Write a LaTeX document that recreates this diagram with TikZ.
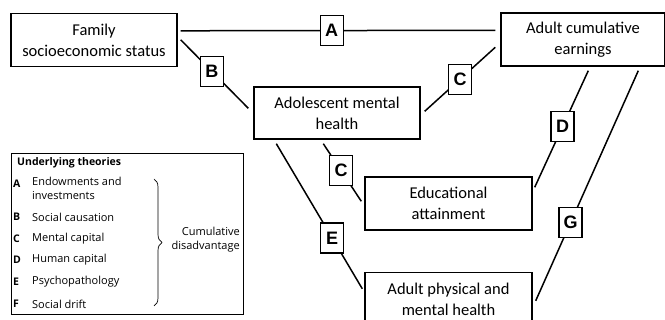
\documentclass[tikz,border=0pt]{standalone}
\usepackage{fontspec}
\setmainfont{Carlito}
\newfontfamily\labfont{Liberation Sans}
\newfontfamily\legfont{Open Sans}
\usetikzlibrary{calc}
\usetikzlibrary{decorations.pathreplacing}
\tikzstyle{bigbox}=[draw, line width=1.4, align=center, inner sep=0, minimum height=53, font=\fontsize{16.5}{21}\selectfont]
\tikzstyle{lbl}=[draw, fill=white, line width=1.4, inner sep=0, minimum width=23, minimum height=30, font=\labfont\bfseries\fontsize{18}{18}\selectfont]
\tikzstyle{link}=[line width=1.5]
\tikzstyle{legkey}=[anchor=west, inner sep=0, font=\legfont\bfseries\fontsize{10.5}{13}\selectfont]
\tikzstyle{legitem}=[anchor=west, inner sep=0, align=left, font=\legfont\fontsize{11}{14}\selectfont]

\begin{document}
\begin{tikzpicture}[x=1pt,y=-1pt]
        \useasboundingbox (0,0) rectangle (665,320);

        \node[bigbox, minimum width=166] (fam) at (94,40) {Family\\socioeconomic status};
        \node[bigbox, minimum width=164] (earn) at (583,39.5) {Adult cumulative\\earnings};
        \node[bigbox, minimum width=166, minimum height=52] (adol) at (337,113) {Adolescent mental\\health};
        \node[bigbox, minimum width=167] (edu) at (448.5,203.5) {Educational\\attainment};
        \node[bigbox, minimum width=167] (adph) at (448.5,299) {Adult physical and\\mental health};

        \draw[link] ($(fam.north east)+(3,18)$) -- node[lbl, pos=0.48]{A} ($(earn.north west)+(-5,18)$);
        \draw[link] ($(fam.north east)+(3,27)$) -- node[lbl, pos=0.46]{B} ($(adol.north west)+(-5,22)$);
        \draw[link] ($(earn.north west)+(-5,35)$) -- node[lbl, pos=0.5]{C} ($(adol.north east)+(4,25)$);
        \draw[link] ($(adol.south west)+(70,4)$) -- node[lbl, pos=0.47]{C} ($(edu.north west)+(-3,25)$);
        \draw[link] ($(adol.south west)+(23,4)$) -- node[lbl, pos=0.65]{E} ($(adph.north west)+(-2,17)$);
        \draw[link] ($(earn.south west)+(88,4)$) -- node[lbl, pos=0.48]{D} ($(edu.north east)+(2,11)$);
        \draw[link] ($(earn.south west)+(138,4)$) -- node[lbl, pos=0.66]{G} ($(adph.north east)+(3,29)$);

        % legend
        \node[draw, line width=0.8, minimum width=232, minimum height=161, inner sep=0] (leg) at (127,233.5) {};
        \node[legkey] (ttl) at (17,163) {Underlying theories};
        \node[legkey] (kA) at (13,184) {A};
        \node[legitem, anchor=north west] (tA) at (32,177) {Endowments and\\investments};
        \foreach \k/\t/\y in {B/Social causation/217, C/Mental capital/239, D/Human capital/260, E/Psychopathology/282, F/Social drift/304}
        {
            \node[legkey] (k\k) at (13,\y) {\k};
            \node[legitem] (t\k) at (32,\y) {\t};
        }
        \draw[line width=0.7, decorate, decoration={brace, amplitude=8}] (154,179) -- (154,306);
        \node[legitem, anchor=east, align=right] (cum) at (240,240) {Cumulative\\disadvantage};
\end{tikzpicture}
\end{document}
